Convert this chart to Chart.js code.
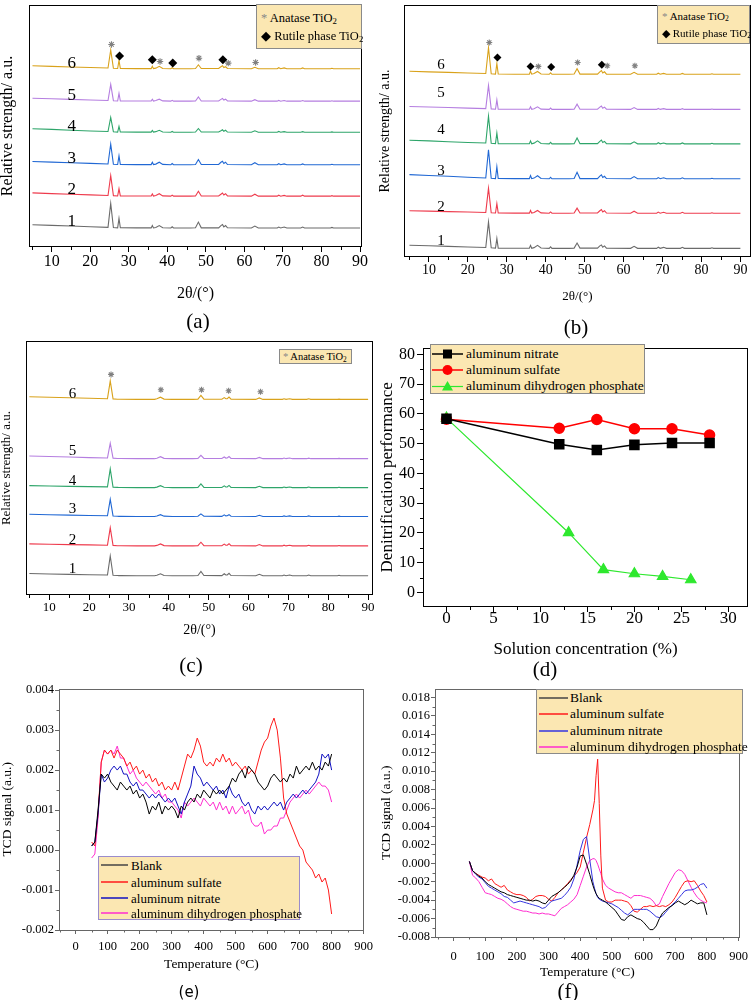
<!DOCTYPE html>
<html><head><meta charset="utf-8">
<script src="https://cdn.jsdelivr.net/npm/chart.js@4.4.0/dist/chart.umd.min.js"></script>
<style>
body{margin:0;background:#fff;width:756px;height:1000px;position:relative;overflow:hidden;font-family:"Liberation Serif",serif;color:#000;}
canvas{position:absolute;}
.cap{position:absolute;font-family:"Liberation Serif",serif;font-size:21px;transform:translate(-50%,-50%);white-space:nowrap;}
.leg{position:absolute;background:#fbe7b2;border:1px solid #8a8a8a;box-sizing:border-box;}
.t{position:absolute;white-space:nowrap;transform:translateY(-50%);line-height:1;}
.t sub{font-size:70%;vertical-align:-0.25em;line-height:0;}
.sw{position:absolute;}
</style></head><body>

<canvas id="ca" width="378" height="336" style="left:0;top:0"></canvas>
<canvas id="cb" width="378" height="336" style="left:378px;top:0"></canvas>
<canvas id="cc" width="378" height="342" style="left:0;top:336px"></canvas>
<canvas id="cd" width="378" height="344" style="left:378px;top:336px"></canvas>
<canvas id="ce" width="378" height="320" style="left:0;top:680px"></canvas>
<canvas id="cf" width="378" height="320" style="left:378px;top:680px"></canvas>

<!-- legends -->
<div class="leg" style="left:256px;top:4px;width:106px;height:45px;font-size:12.5px">
  <div class="t" style="left:4px;top:13px"><span style="color:#888">*</span> Anatase TiO<sub>2</sub></div>
  <div class="t" style="left:4px;top:31px">◆ Rutile phase TiO<sub>2</sub></div>
</div>
<div class="leg" style="left:657px;top:5px;width:93px;height:39px;font-size:11px">
  <div class="t" style="left:4px;top:10px"><span style="color:#888">*</span> Anatase TiO<sub>2</sub></div>
  <div class="t" style="left:4px;top:27px">◆ Rutile phase TiO<sub>2</sub></div>
</div>
<div class="leg" style="left:279px;top:349px;width:73px;height:15px;font-size:10.5px">
  <div class="t" style="left:3px;top:7px"><span style="color:#888">*</span> Anatase TiO<sub>2</sub></div>
</div>

<div class="leg" style="left:430px;top:344px;width:215px;height:50px;font-size:13.5px">
  <svg class="sw" style="left:1px;top:3px" width="31" height="12"><line x1="0" y1="6" x2="31" y2="6" stroke="#000" stroke-width="1.5"/><rect x="11" y="1.5" width="9" height="9" fill="#000"/></svg>
  <div class="t" style="left:35px;top:9px">aluminum nitrate</div>
  <svg class="sw" style="left:1px;top:19px" width="31" height="12"><line x1="0" y1="6" x2="31" y2="6" stroke="#ff0000" stroke-width="1.5"/><circle cx="15.5" cy="6" r="5" fill="#ff0000"/></svg>
  <div class="t" style="left:35px;top:25px">aluminum sulfate</div>
  <svg class="sw" style="left:1px;top:35px" width="31" height="12"><line x1="0" y1="6.5" x2="31" y2="6.5" stroke="#2ee82e" stroke-width="1.2"/><polygon points="15.5,1 21,10.5 10,10.5" fill="#2ee82e"/></svg>
  <div class="t" style="left:35px;top:41px">aluminum dihydrogen phosphate</div>
</div>

<div class="leg" style="left:98px;top:856px;width:202px;height:64px;font-size:13px;border-color:#9a8ccc">
  <svg class="sw" style="left:2px;top:3px" width="27" height="10"><line x1="0" y1="5" x2="27" y2="5" stroke="#444" stroke-width="1.5"/></svg>
  <div class="t" style="left:32px;top:8px">Blank</div>
  <svg class="sw" style="left:2px;top:20px" width="27" height="10"><line x1="0" y1="5" x2="27" y2="5" stroke="#ff1a1a" stroke-width="1.5"/></svg>
  <div class="t" style="left:32px;top:25px">aluminum sulfate</div>
  <svg class="sw" style="left:2px;top:36px" width="27" height="10"><line x1="0" y1="5" x2="27" y2="5" stroke="#1010c0" stroke-width="1.5"/></svg>
  <div class="t" style="left:32px;top:41px">aluminum nitrate</div>
  <svg class="sw" style="left:2px;top:51px" width="27" height="10"><line x1="0" y1="5" x2="27" y2="5" stroke="#ff2ccf" stroke-width="1.5"/></svg>
  <div class="t" style="left:32px;top:56px">aluminum dihydrogen phosphate</div>
</div>

<div class="leg" style="left:536px;top:689px;width:207px;height:65px;font-size:13.5px">
  <svg class="sw" style="left:2px;top:3px" width="29" height="10"><line x1="0" y1="5" x2="29" y2="5" stroke="#444" stroke-width="1.5"/></svg>
  <div class="t" style="left:33px;top:8px">Blank</div>
  <svg class="sw" style="left:2px;top:19px" width="29" height="10"><line x1="0" y1="5" x2="29" y2="5" stroke="#ff1a1a" stroke-width="1.5"/></svg>
  <div class="t" style="left:33px;top:24px">aluminum sulfate</div>
  <svg class="sw" style="left:2px;top:36px" width="29" height="10"><line x1="0" y1="5" x2="29" y2="5" stroke="#3535e0" stroke-width="1.5"/></svg>
  <div class="t" style="left:33px;top:41px">aluminum nitrate</div>
  <svg class="sw" style="left:2px;top:52px" width="29" height="10"><line x1="0" y1="5" x2="29" y2="5" stroke="#ff2ccf" stroke-width="1.5"/></svg>
  <div class="t" style="left:33px;top:57px">aluminum dihydrogen phosphate</div>
</div>

<div class="cap" style="left:198px;top:321px">(a)</div>
<div class="cap" style="left:576px;top:327px">(b)</div>
<div class="cap" style="left:191px;top:665px">(c)</div>
<div class="cap" style="left:545px;top:669px">(d)</div>
<div class="cap" style="left:189px;top:992px;font-family:'DejaVu Sans',sans-serif;font-size:15px">(e)</div>
<div class="cap" style="left:568px;top:991px">(f)</div>

<script>
// ---------------- DATA ----------------
// XRD 2θ grid (degrees)
const xrdX = [5,10,15,20,24.6,25.3,26.0,27.1,27.45,27.8,32,35.8,36.1,36.4,37.0,37.9,38.8,40.9,41.25,41.6,46,47.3,48.05,48.8,53.3,53.9,54.3,54.65,55.1,55.6,61.8,62.7,63.6,68.5,68.9,69.4,70.3,71.0,74.6,75.1,75.6,82.3,82.7,83.1,90];
const xrdTickLabels = [10,20,30,40,50,60,70,80,90];
const xrdNames = ['1','2','3','4','5','6'];

// panel (a) intensities (a.u., stacked)
const a1 = [22.7,22.0,21.3,20.6,20.0,44.3,19.8,19.5,29.1,19.5,19.4,19.4,21.8,19.4,19.9,21.8,19.6,19.3,20.5,19.3,19.3,19.5,25.3,19.5,19.5,21.8,22.8,20.5,21.8,19.5,19.3,21.3,19.3,19.3,20.3,19.3,20.3,19.3,19.3,20.3,19.3,19.3,19.9,19.3,19.3];
const a2 = [55.0,54.3,53.7,53.0,52.4,72.7,52.2,51.9,59.2,51.9,51.8,51.8,53.9,51.8,52.3,54.2,52.0,51.7,52.7,51.7,51.7,51.9,56.7,51.9,51.9,53.7,54.9,52.9,54.2,51.9,51.7,53.7,51.7,51.7,52.7,51.7,52.5,51.7,51.7,52.7,51.7,51.7,52.2,51.7,51.7];
const a3 = [87.0,86.3,85.7,85.0,84.4,104.7,84.2,83.9,92.7,83.9,83.8,83.8,86.2,83.8,84.3,86.2,84.0,83.7,84.9,83.7,83.7,83.9,88.9,83.9,83.9,86.2,87.2,84.9,86.2,83.9,83.7,85.7,83.7,83.7,84.7,83.7,84.5,83.7,83.7,84.5,83.7,83.7,84.2,83.7,83.7];
const a4 = [120.3,119.6,118.8,118.0,117.4,131.7,117.2,116.9,122.7,116.9,116.8,116.8,118.5,116.8,117.3,118.7,117.0,116.7,117.5,116.7,116.7,116.9,120.5,116.9,116.9,118.2,119.2,117.7,118.7,116.9,116.7,118.2,116.7,116.7,117.5,116.7,117.3,116.7,116.7,117.3,116.7,116.7,117.1,116.7,116.7];
const a5 = [151.3,150.7,150.1,149.5,149.0,165.3,148.8,148.5,156.3,148.5,148.4,148.4,150.3,148.4,148.9,150.3,148.6,148.3,149.1,148.3,148.3,148.5,152.5,148.5,148.5,150.1,151.1,149.5,150.3,148.5,148.3,149.8,148.3,148.3,149.1,148.3,148.9,148.3,148.3,148.9,148.3,148.3,148.7,148.3,148.3];
const a6 = [184.3,183.7,183.1,182.5,182.0,200.3,181.8,181.5,189.8,181.5,181.4,181.4,183.8,181.4,181.9,183.8,181.6,181.3,182.3,181.3,181.3,181.5,185.3,181.5,181.5,183.3,184.3,182.5,183.3,181.5,181.3,182.8,181.3,181.3,182.3,181.3,182.1,181.3,181.3,182.1,181.3,181.3,181.8,181.3,181.3];
const aAnataseX = [25.5,38.1,48.2,55.8,62.9];
const aAnataseY = [206,188.7,192,187,187.7];
const aRutileX = [27.6,36.1,41.4,54.4];
const aRutileY = [194.3,190.3,187,190.3];

// panel (b)
const b1 = [12.0,11.4,10.8,10.1,9.6,35.5,9.3,9.0,18.8,9.0,8.9,8.9,11.8,8.9,9.5,11.8,9.1,8.8,10.3,8.8,8.8,9.0,14.2,9.0,9.0,11.3,12.3,10.0,11.3,9.0,8.8,10.8,8.8,8.8,10.0,8.8,9.8,8.8,8.8,9.8,8.8,8.8,9.3,8.8,8.8];
const b2 = [47.0,46.6,46.1,45.7,45.3,70.0,45.0,44.7,54.3,44.7,44.6,44.6,47.3,44.6,45.2,47.3,44.8,44.5,45.8,44.5,44.5,44.7,49.7,44.7,44.7,47.0,48.3,45.8,47.0,44.7,44.5,46.5,44.5,44.5,45.6,44.5,45.4,44.5,44.5,45.4,44.5,44.5,45.0,44.5,44.5];
const b3 = [83.7,82.8,82.0,81.0,80.3,109.0,80.0,79.7,91.7,79.7,79.6,79.6,82.8,79.6,80.2,82.6,79.8,79.5,81.0,79.5,79.5,79.7,86.0,79.7,79.7,82.2,83.5,80.8,82.0,79.7,79.5,81.7,79.5,79.5,80.7,79.5,80.5,79.5,79.5,80.5,79.5,79.5,80.0,79.5,79.5];
const b4 = [118.7,118.0,117.2,116.4,115.8,143.0,115.5,115.2,126.0,115.2,115.1,115.1,118.0,115.1,115.7,118.0,115.3,115.0,116.5,115.0,115.0,115.2,121.0,115.2,115.2,117.5,118.8,116.3,117.5,115.2,115.0,117.0,115.0,115.0,116.1,115.0,115.9,115.0,115.0,115.9,115.0,115.0,115.5,115.0,115.0];
const b5 = [153.0,152.4,151.9,151.3,150.8,174.3,150.5,150.2,159.7,150.2,150.1,150.1,152.7,150.1,150.6,152.6,150.3,150.0,151.3,150.0,150.0,150.2,155.3,150.2,150.2,152.3,153.5,151.2,152.3,150.2,150.0,151.9,150.0,150.0,151.0,150.0,150.8,150.0,150.0,150.8,150.0,150.0,150.4,150.0,150.0];
const b6 = [188.7,188.1,187.6,187.0,186.5,212.7,186.2,185.9,196.7,185.9,185.8,185.8,188.8,185.8,186.4,188.5,186.0,185.7,187.2,185.7,185.7,185.9,191.4,185.9,185.9,188.2,189.5,187.0,188.2,185.9,185.7,187.7,185.7,185.7,186.8,185.7,186.6,185.7,185.7,186.6,185.7,185.7,186.2,185.7,185.7];
const bAnataseX = [25.5,38.1,48.2,55.8,62.9];
const bAnataseY = [218,193.7,197.7,194.3,194.3];
const bRutileX = [27.6,36.1,41.4,54.4];
const bRutileY = [202.7,193.7,193,195.3];

// panel (c)
const c1 = [21.7,21.3,20.9,20.5,20.2,39.5,20.0,19.7,19.6,19.6,19.5,19.5,19.5,19.5,20.0,21.5,19.8,19.5,19.5,19.5,19.5,19.7,23.8,19.7,19.6,21.5,20.2,20.3,22.0,19.7,19.5,21.0,19.5,19.5,20.2,19.5,20.2,19.5,19.5,20.2,19.5,19.5,19.9,19.5,19.5];
const c2 = [51.7,51.4,51.0,50.7,50.4,68.0,50.2,49.9,49.8,49.8,49.7,49.7,49.7,49.7,50.2,51.7,50.0,49.7,49.7,49.7,49.7,49.9,53.4,49.9,49.8,51.5,50.3,50.4,51.9,49.9,49.7,51.1,49.7,49.7,50.4,49.7,50.4,49.7,49.7,50.3,49.7,49.7,50.1,49.7,49.7];
const c3 = [81.7,81.3,80.9,80.5,80.2,96.8,80.0,79.7,79.6,79.6,79.5,79.5,79.5,79.5,80.0,81.3,79.8,79.5,79.5,79.5,79.5,79.7,82.1,79.7,79.6,81.1,80.1,80.2,81.3,79.7,79.5,80.7,79.5,79.5,80.1,79.5,80.1,79.5,79.5,80.1,79.5,79.5,79.8,79.5,79.5];
const c4 = [110.7,110.4,110.0,109.7,109.4,127.7,109.2,108.9,108.8,108.8,108.7,108.7,108.7,108.7,109.2,110.7,109.0,108.7,108.7,108.7,108.7,108.9,112.4,108.9,108.8,110.5,109.3,109.4,110.9,108.9,108.7,110.1,108.7,108.7,109.3,108.7,109.3,108.7,108.7,109.3,108.7,108.7,109.1,108.7,108.7];
const c5 = [140.7,140.2,139.7,139.1,138.7,153.7,138.5,138.2,138.1,138.1,138.0,138.0,138.0,138.0,138.5,140.0,138.3,138.0,138.0,138.0,138.0,138.2,141.4,138.2,138.1,139.7,138.6,138.7,140.2,138.2,138.0,139.3,138.0,138.0,138.6,138.0,138.6,138.0,138.0,138.5,138.0,138.0,138.3,138.0,138.0];
const c6 = [200.7,200.2,199.7,199.1,198.7,216.7,198.5,198.2,198.1,198.1,198.0,198.0,198.0,198.0,198.6,200.2,198.3,198.0,198.0,198.0,198.0,198.2,202.0,198.2,198.1,199.8,198.6,198.7,200.3,198.2,198.0,199.5,198.0,198.0,198.6,198.0,198.6,198.0,198.0,198.6,198.0,198.0,198.3,198.0,198.0];
const cAnataseX = [25.5,38.0,48.2,55.0,63.0];
const cAnataseY = [223.3,207.7,207.7,206.7,205.7];

// panel (d)
const dNitrateX = [0,12,16,20,24,28];
const dNitrateY = [58.4,49.8,47.9,49.6,50.2,50.2];
const dSulfateX = [0,12,16,20,24,28];
const dSulfateY = [58.2,55.2,58.1,55.0,55.0,52.9];
const dPhosX = [0,13,16.7,20,23,26];
const dPhosY = [58.6,20.1,7.7,6.3,5.4,4.3];
const dXTicks = [0,5,10,15,20,25,30];
const dYTicks = [0,10,20,30,40,50,60,70,80];

// panel (e) TPD, temperature °C
const tempE = [50,60,70,80,90,100,110,120,130,140,150,160,170,180,190,200,210,220,230,240,250,260,270,280,290,300,310,320,330,340,350,360,370,380,390,400,410,420,430,440,450,460,470,480,490,500,510,520,530,540,550,560,570,580,590,600,610,620,630,640,650,660,670,680,690,700,710,720,730,740,750,760,770,780,790,800];
const eBlank = [0.0001,0.0002,0.0010,0.0019,0.0018,0.0019,0.0017,0.0016,0.0015,0.0017,
 0.0016,0.0015,0.0016,0.0014,0.0015,0.0013,0.0014,0.0012,0.0009,0.0011,
 0.0010,0.0012,0.0009,0.0011,0.0010,0.0011,0.0010,0.0008,0.0011,0.0010,
 0.0012,0.0013,0.0012,0.0014,0.0013,0.0015,0.0014,0.0013,0.0015,0.0014,
 0.0015,0.0014,0.0015,0.0016,0.0018,0.0017,0.0019,0.0020,0.0018,0.0021,
 0.0020,0.0019,0.0017,0.0016,0.0015,0.0016,0.0018,0.0019,0.0018,0.0017,
 0.0018,0.0017,0.0019,0.0018,0.0021,0.0019,0.0020,0.0021,0.0020,0.0022,
 0.0020,0.0021,0.0020,0.0022,0.0021,0.0024];
const eSulfate = [0.0002,0.0001,0.0009,0.0022,0.0025,0.0024,0.0025,0.0023,0.0025,0.0024,
 0.0023,0.0021,0.0022,0.0020,0.0021,0.0019,0.0020,0.0018,0.0019,0.0017,
 0.0018,0.0016,0.0017,0.0015,0.0016,0.0015,0.0017,0.0015,0.0018,0.0021,
 0.0024,0.0023,0.0025,0.0028,0.0026,0.0022,0.0021,0.0022,0.0021,0.0023,
 0.0022,0.0024,0.0022,0.0023,0.0021,0.0022,0.0021,0.0020,0.0021,0.0019,
 0.0020,0.0019,0.0022,0.0025,0.0027,0.0028,0.0031,0.0033,0.0030,0.0023,
 0.0013,0.0009,0.0007,0.0005,0.0003,0.0001,0.0000,-0.0003,-0.0004,-0.0005,
 -0.0007,-0.0006,-0.0008,-0.0007,-0.0010,-0.0016];
const eNitrate = [0.0001,0.0002,0.0009,0.0019,0.0017,0.0018,0.0020,0.0021,0.0020,0.0021,
 0.0019,0.0019,0.0017,0.0016,0.0017,0.0015,0.0015,0.0014,0.0013,0.0014,
 0.0013,0.0014,0.0013,0.0012,0.0013,0.0012,0.0013,0.0011,0.0009,0.0012,
 0.0014,0.0016,0.0021,0.0019,0.0018,0.0016,0.0017,0.0016,0.0015,0.0016,
 0.0014,0.0015,0.0013,0.0016,0.0014,0.0013,0.0014,0.0012,0.0011,0.0012,
 0.0010,0.0009,0.0011,0.0010,0.0011,0.0010,0.0011,0.0012,0.0011,0.0012,
 0.0010,0.0012,0.0013,0.0014,0.0013,0.0014,0.0015,0.0014,0.0015,0.0016,
 0.0017,0.0019,0.0024,0.0023,0.0024,0.0020];
const ePhosphate = [-0.0002,-0.0001,0.0008,0.0022,0.0025,0.0024,0.0025,0.0024,0.0026,0.0023,
 0.0023,0.0021,0.0019,0.0020,0.0018,0.0017,0.0016,0.0017,0.0016,0.0015,
 0.0014,0.0015,0.0013,0.0014,0.0012,0.0012,0.0011,0.0010,0.0008,0.0012,
 0.0011,0.0012,0.0013,0.0012,0.0011,0.0013,0.0012,0.0011,0.0012,0.0010,
 0.0012,0.0010,0.0011,0.0009,0.0011,0.0009,0.0010,0.0011,0.0009,0.0010,
 0.0007,0.0006,0.0006,0.0007,0.0004,0.0005,0.0005,0.0006,0.0006,0.0008,
 0.0008,0.0010,0.0012,0.0013,0.0014,0.0013,0.0014,0.0015,0.0014,0.0015,
 0.0016,0.0017,0.0016,0.0016,0.0015,0.0012];
const tpdXTicks = [0,100,200,300,400,500,600,700,800,900];
const eYTicks = [-0.002,-0.001,0,0.001,0.002,0.003,0.004];

// panel (f)
const tempF = [50,60,70,80,90,100,110,120,130,140,150,160,170,180,190,200,210,220,230,240,250,260,270,280,290,300,310,320,330,340,350,360,370,380,390,400,410,420,430,440,445,450,455,460,465,470,480,490,500,510,520,530,540,550,560,570,580,590,600,610,620,630,640,650,660,670,680,690,700,710,720,730,740,750,760,770,780,790,800];
const fBlank = [0.0002,-0.0008,-0.0011,-0.0014,-0.0016,-0.0020,-0.0023,-0.0025,-0.0027,-0.0029,
 -0.0031,-0.0032,-0.0034,-0.0035,-0.0036,-0.0037,-0.0038,-0.0039,-0.0040,-0.0040,
 -0.0041,-0.0040,-0.0041,-0.0043,-0.0044,-0.0040,-0.0036,-0.0034,-0.0032,-0.0029,
 -0.0026,-0.0023,-0.0019,-0.0013,-0.0004,0.0008,0.0009,-0.0001,-0.0012,-0.0024,
 -0.0029,-0.0033,-0.0036,-0.0038,-0.0039,-0.0040,
 -0.0042,-0.0045,-0.0048,-0.0051,-0.0056,-0.0061,-0.0062,-0.0058,-0.0056,-0.0058,
 -0.0060,-0.0061,-0.0064,-0.0068,-0.0072,-0.0072,-0.0068,-0.0060,-0.0054,-0.0051,
 -0.0048,-0.0046,-0.0043,-0.0041,-0.0043,-0.0045,-0.0043,-0.0040,-0.0042,-0.0044,
 -0.0043,-0.0043,-0.0056];
const fSulfate = [0.0002,-0.0008,-0.0011,-0.0013,-0.0015,-0.0016,-0.0019,-0.0017,-0.0022,-0.0024,
 -0.0026,-0.0024,-0.0029,-0.0031,-0.0033,-0.0034,-0.0034,-0.0035,-0.0037,-0.0041,
 -0.0039,-0.0036,-0.0035,-0.0035,-0.0036,-0.0039,-0.0041,-0.0037,-0.0032,-0.0029,
 -0.0026,-0.0022,-0.0018,-0.0014,-0.0010,-0.0004,0.0012,0.0028,0.0042,0.0058,
 0.0068,0.0095,0.0113,0.0065,0.0008,-0.0027,
 -0.0040,-0.0042,-0.0042,-0.0040,-0.0040,-0.0040,-0.0041,-0.0042,-0.0046,-0.0052,
 -0.0053,-0.0050,-0.0047,-0.0047,-0.0046,-0.0047,-0.0046,-0.0047,-0.0046,-0.0047,
 -0.0045,-0.0042,-0.0037,-0.0031,-0.0025,-0.0020,-0.0019,-0.0020,-0.0019,-0.0024,
 -0.0030,-0.0035,-0.0042];
const fNitrate = [0.0002,-0.0008,-0.0012,-0.0015,-0.0017,-0.0021,-0.0025,-0.0027,-0.0029,-0.0031,
 -0.0033,-0.0036,-0.0037,-0.0040,-0.0043,-0.0042,-0.0041,-0.0042,-0.0043,-0.0044,
 -0.0045,-0.0046,-0.0047,-0.0049,-0.0048,-0.0044,-0.0041,-0.0040,-0.0039,-0.0038,
 -0.0035,-0.0031,-0.0026,-0.0017,-0.0002,0.0014,0.0026,0.0029,0.0004,-0.0020,
 -0.0027,-0.0033,-0.0037,-0.0039,-0.0040,-0.0041,
 -0.0042,-0.0043,-0.0044,-0.0046,-0.0048,-0.0051,-0.0054,-0.0056,-0.0053,-0.0050,
 -0.0050,-0.0050,-0.0050,-0.0050,-0.0052,-0.0055,-0.0058,-0.0059,-0.0057,-0.0053,
 -0.0049,-0.0045,-0.0042,-0.0038,-0.0034,-0.0030,-0.0029,-0.0029,-0.0028,-0.0026,
 -0.0023,-0.0022,-0.0027];
const fPhosphate = [0.0002,-0.0013,-0.0016,-0.0020,-0.0026,-0.0032,-0.0033,-0.0034,-0.0036,-0.0038,
 -0.0039,-0.0041,-0.0044,-0.0047,-0.0049,-0.0050,-0.0051,-0.0052,-0.0052,-0.0053,
 -0.0054,-0.0054,-0.0055,-0.0054,-0.0055,-0.0055,-0.0056,-0.0057,-0.0053,-0.0049,
 -0.0047,-0.0045,-0.0042,-0.0039,-0.0034,-0.0024,-0.0014,-0.0004,0.0003,0.0005,
 0.0005,0.0003,-0.0001,-0.0006,-0.0011,-0.0017,
 -0.0024,-0.0027,-0.0029,-0.0031,-0.0032,-0.0032,-0.0034,-0.0036,-0.0038,-0.0035,
 -0.0035,-0.0035,-0.0036,-0.0037,-0.0038,-0.0041,-0.0046,-0.0044,-0.0036,-0.0029,
 -0.0022,-0.0016,-0.0010,-0.0007,-0.0008,-0.0012,-0.0019,-0.0026,-0.0032,-0.0037,
 -0.0040,-0.0042,-0.0043];
const fYTicks = [-0.008,-0.006,-0.004,-0.002,0,0.002,0.004,0.006,0.008,0.010,0.012,0.014,0.016,0.018];

// ---------------- STYLE / HELPERS ----------------
const SERIF = '"Liberation Serif","Times New Roman",serif';
Chart.defaults.font.family = SERIF;
Chart.defaults.color = '#000';
const xrdColors = ['#6b6b6b','#ee3b4d','#2168d4','#2ea56a','#b57ee0','#d9a21b'];

function pts(xs, ys){ return xs.map((x,i)=>({x:x, y:ys[i]})); }
function fixTicks(list){ return s => { s.ticks = list.map(v=>({value:v})); }; }

function decor(o){
  return { id:'decor', afterDraw(chart){
    const {ctx, chartArea:ca, scales} = chart;
    ctx.save(); ctx.strokeStyle = o.color; ctx.lineWidth = 1;
    ctx.beginPath();
    (o.mx||[]).forEach(v=>{ const p=Math.round(scales.x.getPixelForValue(v))+0.5; ctx.moveTo(p, ca.bottom); ctx.lineTo(p, ca.bottom+o.ml); });
    (o.my||[]).forEach(v=>{ const p=Math.round(scales.y.getPixelForValue(v))+0.5; ctx.moveTo(ca.left, p); ctx.lineTo(ca.left-o.ml, p); });
    ctx.stroke();
    ctx.strokeRect(Math.round(ca.left)+0.5, Math.round(ca.top)+0.5, Math.round(ca.right-ca.left)-1, Math.round(ca.bottom-ca.top)-1);
    ctx.restore();
  }};
}
function labelsPlugin(items, font){
  return { id:'curveLabels', afterDatasetsDraw(chart){
    const {ctx, scales} = chart;
    ctx.save(); ctx.font = font; ctx.fillStyle='#000'; ctx.textAlign='center'; ctx.textBaseline='middle';
    items.forEach(it=>ctx.fillText(it.t, scales.x.getPixelForValue(it.x), scales.y.getPixelForValue(it.y)));
    ctx.restore();
  }};
}

function xrdChart(id, c){
  const ds = c.series.map((arr,i)=>({type:'line', data:pts(xrdX, arr), borderColor:xrdColors[i], borderWidth:1.1, pointRadius:0, tension:0, order:2}));
  ds.push({type:'scatter', data:pts(c.anX, c.anY), pointStyle:'star', pointRadius:c.starR, borderColor:'#808080', borderWidth:1.1, backgroundColor:'#808080', order:1});
  if (c.ruX) ds.push({type:'scatter', data:pts(c.ruX, c.ruY), pointStyle:'rectRot', pointRadius:c.diaR, borderColor:'#000', backgroundColor:'#000', borderWidth:0, order:1});
  const items = xrdNames.map((t,i)=>({t, x:c.lblX, y:c.lblY[i]}));
  return new Chart(document.getElementById(id), {
    type:'line',
    data:{datasets:ds},
    options:{
      responsive:false, animation:false, devicePixelRatio:1,
      layout:{padding:{left:0, top:c.padT, right:c.padR, bottom:0}},
      plugins:{legend:{display:false}, tooltip:{enabled:false}},
      scales:{
        x:{type:'linear', min:c.xMin, max:c.xMax, afterBuildTicks:fixTicks(xrdTickLabels), afterFit:s=>{s.height=c.xH;},
           ticks:{font:{size:c.tickSize}, padding:0, color:'#000', autoSkip:false, maxRotation:0},
           grid:{display:true, drawOnChartArea:false, drawTicks:true, tickLength:5, tickColor:'#000', color:'#000'},
           border:{display:false},
           title:{display:true, text:'2θ/(°)', font:{size:c.titleSize}, color:'#000', padding:{top:0, bottom:c.titlePadB}}},
        y:{type:'linear', min:0, max:c.yMax, afterFit:s=>{s.width=c.yW;},
           ticks:{display:false}, grid:{display:false}, border:{display:false},
           title:{display:true, text:'Relative strength/ a.u.', font:{size:c.yTitleSize, lineHeight:1}, color:'#000', padding:{top:c.yTitlePad, bottom:0}}}
      }
    },
    plugins:[decor({color:'#000', ml:3, mx:[5,15,25,35,45,55,65,75,85]}), labelsPlugin(items, c.lblFont)]
  });
}

xrdChart('ca', {series:[a1,a2,a3,a4,a5,a6], anX:aAnataseX, anY:aAnataseY, ruX:aRutileX, ruY:aRutileY, starR:3.2, diaR:4.5,
  xMin:4.1, xMax:90.5, yMax:246, padT:1, padR:16, yW:29, xH:89, tickSize:16, titleSize:16, titlePadB:33, yTitleSize:16, yTitlePad:0,
  lblX:15.2, lblY:[26,58,90,123,154,187], lblFont:'17px '+SERIF});
xrdChart('cb', {series:[b1,b2,b3,b4,b5,b6], anX:bAnataseX, anY:bAnataseY, ruX:bRutileX, ruY:bRutileY, starR:3, diaR:4,
  xMin:3.6, xMax:92.7, yMax:256, padT:1, padR:4, yW:26, xH:79, tickSize:14, titleSize:13, titlePadB:32, yTitleSize:14, yTitlePad:0,
  lblX:13.1, lblY:[16.3,51,87,129,167,195.3], lblFont:'15px '+SERIF});
xrdChart('cc', {series:[c1,c2,c3,c4,c5,c6], anX:cAnataseX, anY:cAnataseY, starR:3,
  xMin:4.16, xMax:91.2, yMax:257, padT:2, padR:5, yW:26, xH:83, tickSize:13, titleSize:14, titlePadB:39.5, yTitleSize:13, yTitlePad:0,
  lblX:15.8, lblY:[26.7,55.7,86.7,115,145.7,203.3], lblFont:'15px '+SERIF});

// (d)
new Chart(document.getElementById('cd'), {
  type:'line',
  data:{datasets:[
    {label:'aluminum nitrate', data:pts(dNitrateX,dNitrateY), borderColor:'#000', backgroundColor:'#000', borderWidth:1.5, pointStyle:'rect', pointRadius:6.4, tension:0},
    {label:'aluminum sulfate', data:pts(dSulfateX,dSulfateY), borderColor:'#ff0000', backgroundColor:'#ff0000', borderWidth:1.5, pointStyle:'circle', pointRadius:5, tension:0},
    {label:'aluminum dihydrogen phosphate', data:pts(dPhosX,dPhosY), borderColor:'#2ee82e', backgroundColor:'#2ee82e', borderWidth:1.2, pointStyle:'triangle', pointRadius:6, tension:0}
  ]},
  options:{
    responsive:false, animation:false, devicePixelRatio:1,
    layout:{padding:{left:0, top:2, right:5, bottom:0}},
    plugins:{legend:{display:false}, tooltip:{enabled:false}},
    scales:{
      x:{type:'linear', min:-2.5, max:32.1, afterBuildTicks:fixTicks(dXTicks), afterFit:s=>{s.height=73;},
         ticks:{font:{size:17, lineHeight:1}, padding:-2, color:'#000', autoSkip:false, maxRotation:0},
         grid:{display:true, drawOnChartArea:false, tickLength:5, tickColor:'#000'}, border:{display:false},
         title:{display:true, text:'Solution concentration (%)', font:{size:17}, color:'#000', padding:{top:0, bottom:20}}},
      y:{type:'linear', min:-4.86, max:82.27, afterBuildTicks:fixTicks(dYTicks), afterFit:s=>{s.width=45;},
         ticks:{font:{size:16}, padding:2, color:'#000', autoSkip:false},
         grid:{display:true, drawOnChartArea:false, tickLength:6, tickColor:'#000'}, border:{display:false},
         title:{display:true, text:'Denitrification performance', font:{size:17, lineHeight:1}, color:'#000', padding:{top:1.5, bottom:0}}}
    }
  },
  plugins:[decor({color:'#000', ml:3, mx:[2.5,7.5,12.5,17.5,22.5,27.5], my:[5,15,25,35,45,55,65,75]})]
});

function tpdChart(id, c){
  return new Chart(document.getElementById(id), {
    type:'line',
    data:{datasets:c.series.map(s=>({data:pts(c.x, s.y), borderColor:s.color, borderWidth:1, pointRadius:0, tension:0}))},
    options:{
      responsive:false, animation:false, devicePixelRatio:1,
      layout:{padding:{left:0, top:c.padT, right:c.padR, bottom:0}},
      plugins:{legend:{display:false}, tooltip:{enabled:false}},
      scales:{
        x:{type:'linear', min:c.xMin, max:c.xMax, afterBuildTicks:fixTicks(tpdXTicks), afterFit:s=>{s.height=c.xH;},
           ticks:{font:{size:12.5}, padding:c.xTickPad, color:'#000', autoSkip:false, maxRotation:0},
           grid:{display:true, drawOnChartArea:false, tickLength:4, tickColor:'#666'}, border:{display:false},
           title:{display:true, text:'Temperature (°C)', font:{size:13.5}, color:'#000', padding:{top:0, bottom:c.xTitlePad}}},
        y:{type:'linear', min:c.yMin, max:c.yMax, afterBuildTicks:fixTicks(c.yTicks), afterFit:s=>{s.width=c.yW;},
           ticks:{font:{size:12.5}, padding:1, color:'#000', autoSkip:false, callback:v=>Number(v).toFixed(3)},
           grid:{display:true, drawOnChartArea:false, tickLength:4, tickColor:'#666'}, border:{display:false},
           title:{display:true, text:'TCD signal (a.u.)', font:{size:13.5, lineHeight:1}, color:'#000', padding:{top:c.yTitlePad, bottom:0}}}
      }
    },
    plugins:[decor({color:'#666', ml:2.5, mx:c.mx, my:c.my})]
  });
}

tpdChart('ce', {x:tempE, series:[
    {y:eBlank, color:'#000000'}, {y:eNitrate, color:'#1010c0'}, {y:eSulfate, color:'#ff1a1a'}, {y:ePhosphate, color:'#ff2ccf'}],
  xMin:-52, xMax:901, yMin:-0.002, yMax:0.00404, yTicks:eYTicks, padT:2, padR:11, yW:59, xH:70, xTickPad:5, xTitlePad:27, yTitlePad:0.5,
  mx:[-50,50,150,250,350,450,550,650,750,850], my:[-0.0015,-0.0005,0.0005,0.0015,0.0025,0.0035]});

tpdChart('cf', {x:tempF, series:[
    {y:fBlank, color:'#000000'}, {y:fNitrate, color:'#3535e0'}, {y:fSulfate, color:'#ff1a1a'}, {y:fPhosphate, color:'#ff2ccf'}],
  xMin:-58.6, xMax:904, yMin:-0.008, yMax:0.01897, yTicks:fYTicks, padT:7, padR:9, yW:57, xH:63, xTickPad:8, xTitlePad:19, yTitlePad:2,
  mx:[-50,50,150,250,350,450,550,650,750,850], my:[-0.007,-0.005,-0.003,-0.001,0.001,0.003,0.005,0.007,0.009,0.011,0.013,0.015,0.017]});
</script>
</body></html>
